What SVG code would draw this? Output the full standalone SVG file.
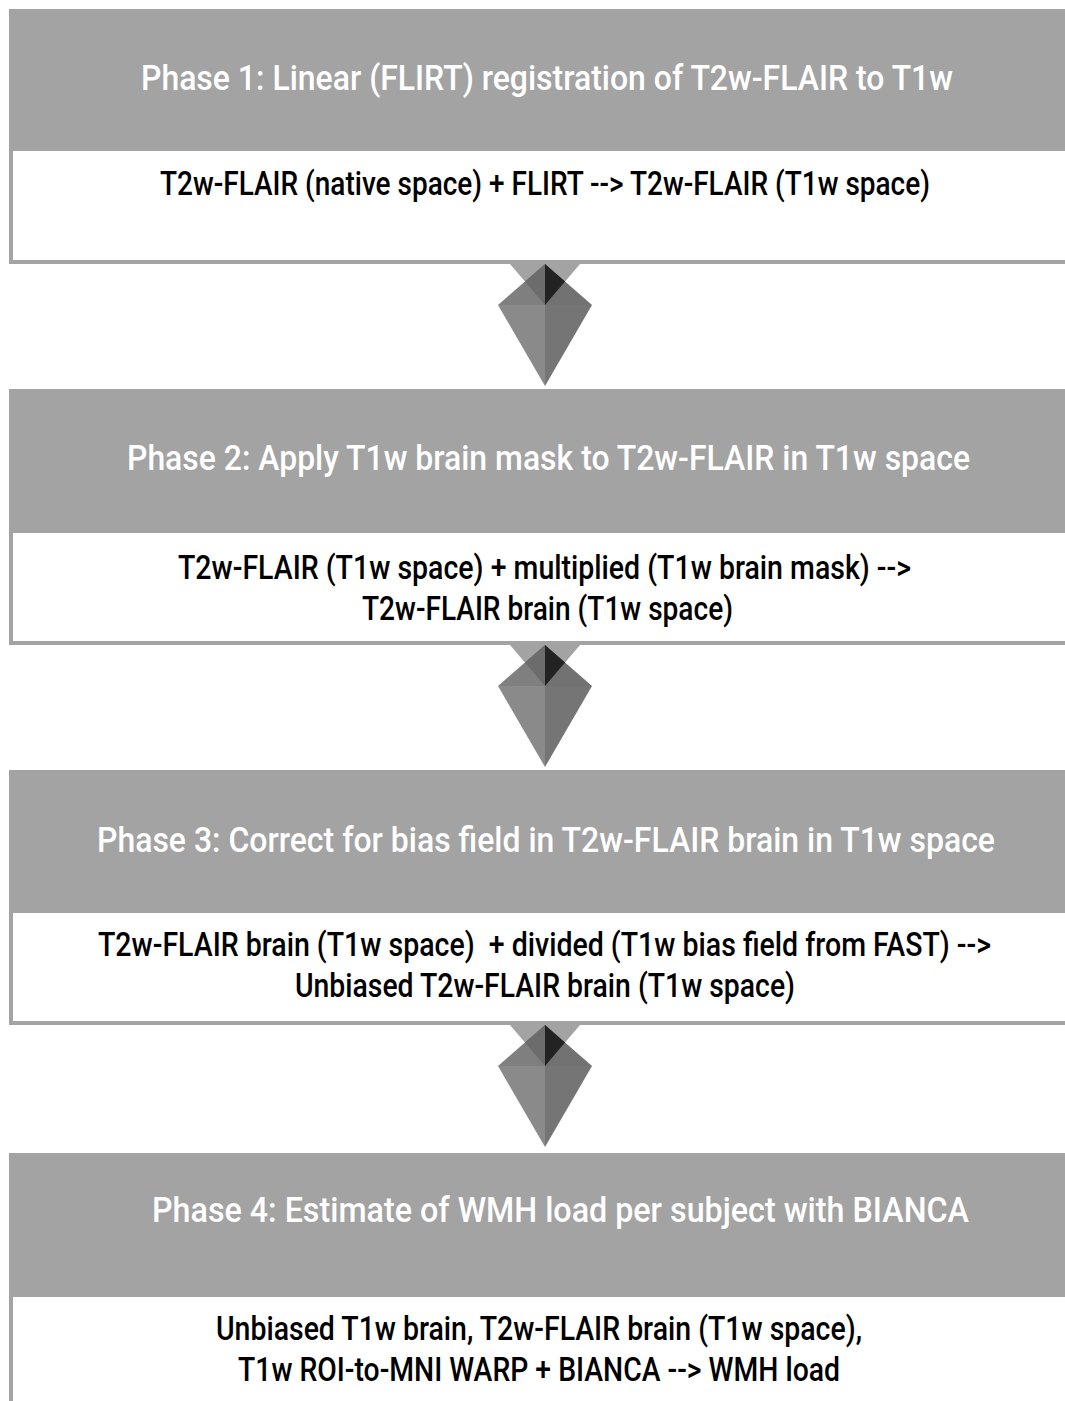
<svg xmlns="http://www.w3.org/2000/svg" width="1065" height="1401" viewBox="0 0 1065 1401">
<defs>
<style>
.hdr{fill:#a3a3a3}
.body{fill:#ffffff}
.ht{font-family:Roboto,"Liberation Sans",sans-serif;font-size:35px;fill:#ffffff;font-weight:500}
.bt{font-family:Roboto,"Liberation Sans",sans-serif;font-size:33px;fill:#000000;font-weight:500}
.tri{fill:#a3a3a3}
.ul{fill:#7f7f7f}
.ur{fill:#727272}
.ll{fill:#8a8a8a}
.lr{fill:#757575}
.ovl{fill:#6c6c6c}
.ovr{fill:#232323}
</style>
<g id="arrow">
<polygon class="tri" points="510,0 580,0 545,41"/>
<polygon class="ul" points="545,0 498,41 545,41"/>
<polygon class="ur" points="545,0 592,41 545,41"/>
<polygon class="ll" points="498,41 545,41 545,122"/>
<polygon class="lr" points="592,41 545,41 545,122"/>
<polygon class="ovl" points="545,0 525,17.5 545,41"/>
<polygon class="ovr" points="545,0 565,17.5 545,41"/>
</g>
</defs>
<rect x="0" y="0" width="1065" height="1401" fill="#ffffff"/>
<g id="phase1">
<rect class="hdr" x="9" y="9" width="1056" height="255"/>
<rect class="body" x="13" y="151" width="1052" height="109"/>
<text class="ht" x="141" y="90" textLength="812" lengthAdjust="spacingAndGlyphs">Phase 1: Linear (FLIRT) registration of T2w-FLAIR to T1w</text>
<text class="bt" x="160" y="195" textLength="770" lengthAdjust="spacingAndGlyphs">T2w-FLAIR (native space) + FLIRT --&gt; T2w-FLAIR (T1w space)</text>
</g>
<g id="phase2">
<rect class="hdr" x="9" y="389" width="1056" height="256"/>
<rect class="body" x="13" y="533" width="1052" height="108"/>
<text class="ht" x="127" y="470" textLength="843" lengthAdjust="spacingAndGlyphs">Phase 2: Apply T1w brain mask to T2w-FLAIR in T1w space</text>
<text class="bt" x="178" y="579" textLength="733" lengthAdjust="spacingAndGlyphs">T2w-FLAIR (T1w space) + multiplied (T1w brain mask) --&gt;</text>
<text class="bt" x="362" y="620" textLength="371" lengthAdjust="spacingAndGlyphs">T2w-FLAIR brain (T1w space)</text>
</g>
<g id="phase3">
<rect class="hdr" x="9" y="770" width="1056" height="255"/>
<rect class="body" x="13" y="913" width="1052" height="108"/>
<text class="ht" x="97" y="852" textLength="898" lengthAdjust="spacingAndGlyphs">Phase 3: Correct for bias field in T2w-FLAIR brain in T1w space</text>
<text class="bt" x="98" y="956" textLength="893" lengthAdjust="spacingAndGlyphs" xml:space="preserve">T2w-FLAIR brain (T1w space)  + divided (T1w bias field from FAST) --&gt;</text>
<text class="bt" x="295" y="997" textLength="500" lengthAdjust="spacingAndGlyphs">Unbiased T2w-FLAIR brain (T1w space)</text>
</g>
<g id="phase4">
<rect class="hdr" x="9" y="1153" width="1056" height="248"/>
<rect class="body" x="13" y="1297" width="1052" height="104"/>
<text class="ht" x="152" y="1222" textLength="817" lengthAdjust="spacingAndGlyphs">Phase 4: Estimate of WMH load per subject with BIANCA</text>
<text class="bt" x="216" y="1340" textLength="646" lengthAdjust="spacingAndGlyphs">Unbiased T1w brain, T2w-FLAIR brain (T1w space),</text>
<text class="bt" x="238" y="1381" textLength="602" lengthAdjust="spacingAndGlyphs">T1w ROI-to-MNI WARP + BIANCA --&gt; WMH load</text>
</g>
<g id="connectors">
<use href="#arrow" transform="translate(0,264)"/>
<use href="#arrow" transform="translate(0,645)"/>
<use href="#arrow" transform="translate(0,1025)"/>
</g>
</svg>
